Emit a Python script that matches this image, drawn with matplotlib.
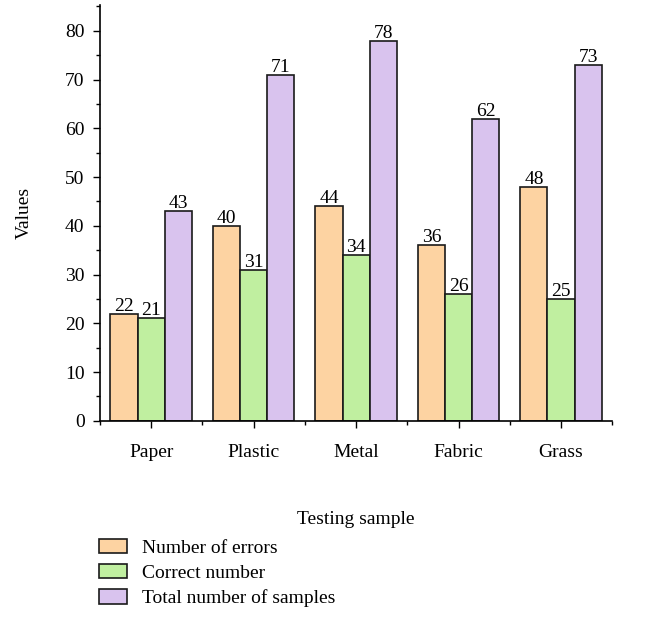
import matplotlib

matplotlib.use('Agg')

import matplotlib.pyplot as plt
import numpy as np
from matplotlib.ticker import MultipleLocator, FixedLocator

categories = ['Paper', 'Plastic', 'Metal', 'Fabric', 'Grass']
errors = [22, 40, 44, 36, 48]
correct = [21, 31, 34, 26, 25]
totals = [43, 71, 78, 62, 73]
series_names = ['Number of errors', 'Correct number', 'Total number of samples']
colors = ['#fdd3a2', '#c0efa0', '#d9c3ee']

plt.rcParams['font.family'] = ['Liberation Serif', 'DejaVu Serif']
plt.rcParams['font.size'] = 14

fig = plt.figure(figsize=(6.57, 6.18), dpi=100)
ax = fig.add_axes([0.152, 0.319, 0.78, 0.673])

ind = np.arange(len(categories))
width = 0.265
for k, (vals, name, c) in enumerate(zip([errors, correct, totals], series_names, colors)):
    rects = ax.bar(ind + (k - 1) * width, vals, width=width, color=c,
                   edgecolor='#1a1a1a', linewidth=1.2, label=name)
    for rect, v in zip(rects, vals):
        ax.text(rect.get_x() + rect.get_width() / 2, v - 0.2, str(v),
                ha='center', va='bottom', fontsize=14)

ax.set_xlim(-0.5, len(categories) - 0.5)
ax.set_ylim(0, 85.3)
ax.yaxis.set_major_locator(MultipleLocator(10))
ax.yaxis.set_minor_locator(MultipleLocator(5))
ax.set_xticks(ind)
ax.set_xticklabels(categories)
ax.xaxis.set_minor_locator(FixedLocator(np.arange(-0.5, len(categories), 1.0)))
ax.tick_params(which='major', length=5, width=1, pad=12, axis='x')
ax.tick_params(which='major', length=5, width=1, axis='y', pad=6)
ax.tick_params(which='minor', length=3, width=1)

for side in ['top', 'right']:
    ax.spines[side].set_visible(False)
for side in ['left', 'bottom']:
    ax.spines[side].set_linewidth(1.2)

ax.set_ylabel('Values', labelpad=23)
ax.set_xlabel('Testing sample', labelpad=36)

ax.legend(loc='upper left', bbox_to_anchor=(-0.017, -0.265), frameon=False,
          handlelength=1.45, handleheight=0.75, labelspacing=0.38,
          handletextpad=0.75, borderaxespad=0)

plt.savefig('out.png', dpi=100)
